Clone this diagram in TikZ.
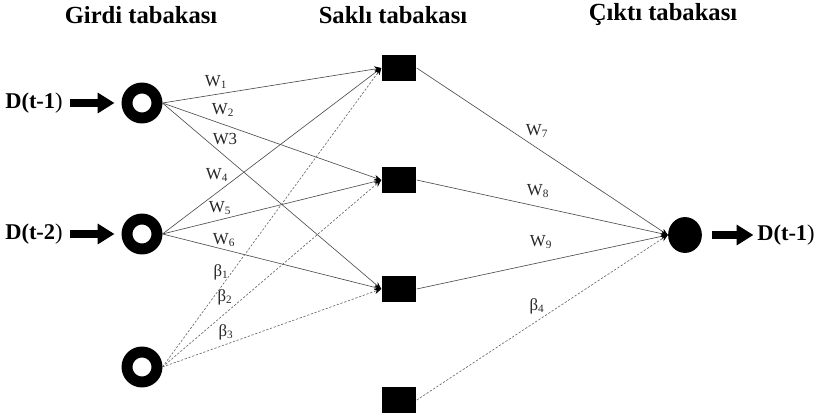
\documentclass[tikz,border=0pt]{standalone}
\usepackage{fontspec}
\setmainfont{Liberation Serif}
\usetikzlibrary{positioning, shapes.geometric, arrows.meta}

\begin{document}
\begin{tikzpicture}[x=0.025cm, y=-0.025cm,
        title/.style={font=\fontsize{17.5}{20}\selectfont\bfseries},
        dlab/.style={font=\fontsize{16}{18}\selectfont\bfseries, inner sep=2pt},
        inp/.style={circle, draw=black, line width=7.8pt, minimum size=21.3pt, inner sep=0pt},
        hid/.style={rectangle, fill=black, minimum width=24.8pt, minimum height=19pt, inner sep=0pt},
        outp/.style={ellipse, fill=black, minimum width=24pt, minimum height=25.5pt, inner sep=0pt},
        wire/.style={-{Stealth[length=5pt,width=4pt,black]}, black!70, line width=0.45pt},
        bias/.style={wire, black!60, dash pattern=on 1.6pt off 1.2pt},
        blk/.style={-{Triangle[length=12pt,width=14pt]}, line width=5.8pt},
        wlab/.style={font=\fontsize{12}{14}\selectfont, text=black!85, inner sep=1pt}
    ]
    \useasboundingbox (0,0) rectangle (817,419);

    % Titles
    \node[title] (tin)  at (141,15) {Girdi tabakası};
    \node[title] (thid) at (393,15) {Saklı tabakası};
    \node[title] (tout) at (663,15) {Çıktı tabakası};

    % Input layer
    \node[inp] (in1) at (142,103) {};
    \node[inp] (in2) at (142,234) {};
    \node[inp] (in3) at (142,367) {};
    \node[dlab] (d1) at (34,103) {D(t-1\textmd{)}};
    \node[dlab] (d2) at (34,234) {D(t-2\textmd{)}};

    % Hidden layer
    \node[hid] (hid1) at (399,68)  {};
    \node[hid] (hid2) at (399,180) {};
    \node[hid] (hid3) at (399,289) {};
    \node[hid] (hid4) at (399,400) {};

    % Output layer
    \node[outp] (out) at (685,235) {};
    \node[dlab] (dout) at (786,235) {D(t-1\textmd{)}};

    % Block arrows
    \draw[blk, shorten <=3pt, shorten >=5pt] (d1) -- (in1);
    \draw[blk, shorten <=3pt, shorten >=5pt] (d2) -- (in2);
    \draw[blk, shorten <=7pt, shorten >=0.5pt] (out) -- (dout);

    % Input to hidden
    \foreach \i in {1,2}
        \foreach \h in {1,2,3}
            \draw[wire] (in\i.east) -- (hid\h.west);
    \foreach \h in {1,2,3}
        \draw[bias] (in3.east) -- (hid\h.west);

    % Hidden to output
    \foreach \h in {1,2,3}
        \draw[wire] (hid\h.east) -- (out.west);
    \draw[bias] (hid4.east) -- (out.west);

    % Weights
    \node[wlab] (w1) at (216,82)  {W\textsubscript{1}};
    \node[wlab] (w2) at (223,110) {W\textsubscript{2}};
    \node[wlab] (w3) at (225,139) {W3};
    \node[wlab] (w4) at (217,175) {W\textsubscript{4}};
    \node[wlab] (w5) at (220,208) {W\textsubscript{5}};
    \node[wlab] (w6) at (224,240) {W\textsubscript{6}};
    \node[wlab] (b1) at (221,272) {β\textsubscript{1}};
    \node[wlab] (b2) at (225,297) {β\textsubscript{2}};
    \node[wlab] (b3) at (226,332) {β\textsubscript{3}};
    \node[wlab] (w7) at (537,131) {W\textsubscript{7}};
    \node[wlab] (w8) at (538,191) {W\textsubscript{8}};
    \node[wlab] (w9) at (541,242) {W\textsubscript{9}};
    \node[wlab] (b4) at (537,306) {β\textsubscript{4}};
\end{tikzpicture}
\end{document}
